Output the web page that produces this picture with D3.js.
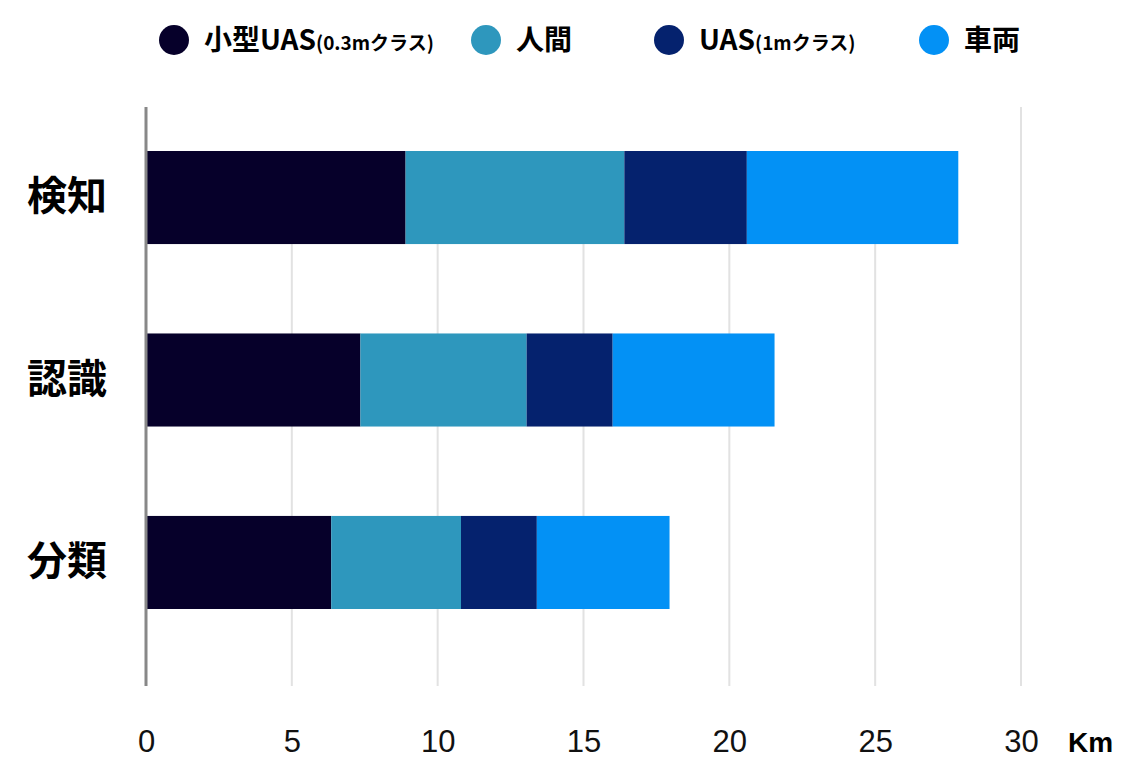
<html>
<head>
<meta charset="utf-8">
<script src="https://d3js.org/d3.v7.min.js"></script>
<style>
body { margin: 0; background: white; }
.tick text { font-family: "Liberation Sans", Arial, sans-serif; }
</style>
</head>
<body>
<svg width="1132" height="781"></svg>
<script>
// data
var categories = ["検知", "認識", "分類"];
var seriesNames = ["小型UAS", "人間", "UAS", "車両"];
var seriesNotes = ["(0.3mクラス)", "", "(1mクラス)", ""];
var smallUAS = [8.9, 7.35, 6.35];
var human = [7.5, 5.7, 4.45];
var uas1m = [4.2, 2.95, 2.6];
var vehicle = [7.25, 5.55, 4.55];
var xTicks = [0, 5, 10, 15, 20, 25, 30];
var unitLabel = "Km";

var colors = ["#06002a", "#2e97bd", "#05226e", "#0391f5"];
var legendX = [174, 486, 669, 934];

var svg = d3.select("svg");

var x = d3.scaleLinear().domain([0, 30]).range([146, 1021]);
var y = d3.scaleBand().domain(categories).range([151, 609]).paddingInner(0.49).paddingOuter(0);

var table = categories.map(function(c, i) {
    return {cat: c, v: [smallUAS[i], human[i], uas1m[i], vehicle[i]]};
});
var plotTop = 107, plotBottom = 686;
var firstTotal = d3.sum(table[0].v);

// gridlines
svg.append("g").selectAll("line")
    .data(xTicks.filter(function(t) { return t > 0; }))
    .enter().append("line")
    .attr("x1", function(d) { return x(d); })
    .attr("x2", function(d) { return x(d); })
    .attr("y1", function(d) { return d < firstTotal ? y(categories[0]) + y.bandwidth() : plotTop; })
    .attr("y2", plotBottom)
    .attr("stroke", "#e2e2e2")
    .attr("stroke-width", 2);

// bars
table.forEach(function(row) {
    var acc = 0;
    row.v.forEach(function(v, k) {
        svg.append("rect")
            .attr("x", x(acc))
            .attr("y", y(row.cat))
            .attr("width", x(acc + v) - x(acc))
            .attr("height", y.bandwidth())
            .attr("fill", colors[k]);
        acc += v;
    });
});

// vertical axis line
svg.append("line")
    .attr("x1", x(0)).attr("x2", x(0))
    .attr("y1", plotTop).attr("y2", plotBottom)
    .attr("stroke", "#888").attr("stroke-width", 3);

// x axis labels
var xa = svg.append("g")
    .attr("transform", "translate(0," + plotBottom + ")")
    .call(d3.axisBottom(x).tickValues(xTicks).tickSize(0).tickPadding(44));
xa.select(".domain").remove();
xa.selectAll("text").style("font-size", "31px").attr("fill", "#111");

svg.append("text")
    .attr("x", 1068).attr("y", 752)
    .style("font-family", "'Liberation Sans', Arial, sans-serif")
    .style("font-weight", "bold")
    .style("font-size", "28px")
    .attr("fill", "#000")
    .text(unitLabel);

// category labels
var ya = svg.append("g")
    .attr("transform", "translate(" + x(0) + ",0)")
    .call(d3.axisLeft(y).tickSize(0).tickPadding(39));
ya.select(".domain").remove();
ya.selectAll("text")
    .style("font-family", "'Noto Sans CJK JP', sans-serif")
    .style("font-weight", "bold")
    .style("font-size", "40px")
    .attr("fill", "#000");

// legend
var lg = svg.append("g").selectAll("g")
    .data(seriesNames)
    .enter().append("g")
    .attr("transform", function(d, i) { return "translate(" + legendX[i] + ",40)"; });
lg.append("circle").attr("r", 15).attr("fill", function(d, i) { return colors[i]; });
var lt = lg.append("text")
    .attr("x", 30).attr("y", 10)
    .style("font-family", "'Noto Sans CJK JP', sans-serif")
    .style("font-weight", "bold")
    .attr("fill", "#000");
lt.append("tspan").style("font-size", "28px").text(function(d) { return d; });
lt.append("tspan").style("font-size", "19px").text(function(d, i) { return seriesNotes[i]; });
</script>
</body>
</html>
